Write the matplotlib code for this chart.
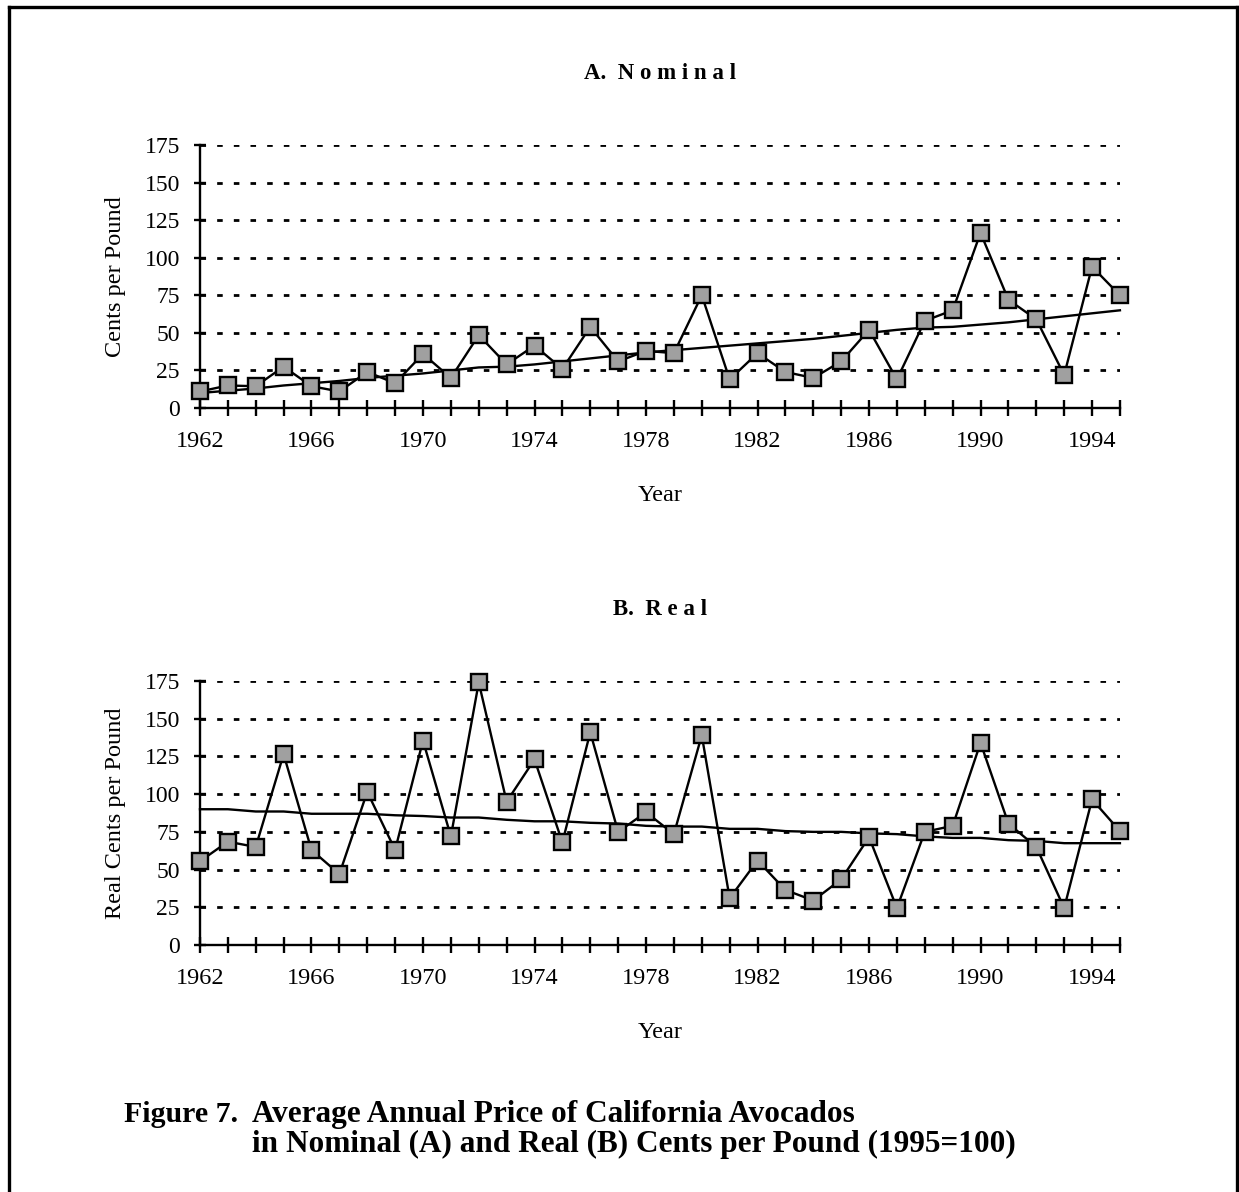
import matplotlib.pyplot as plt
from matplotlib.lines import Line2D

plt.rcParams["font.family"] = ["Liberation Serif", "DejaVu Serif"]

years = list(range(1962, 1996))
year_labels = [1962, 1966, 1970, 1974, 1978, 1982, 1986, 1990, 1994]
y_ticks = [0, 25, 50, 75, 100, 125, 150, 175]

# A. nominal cents per pound
nominal = [11, 15, 14.5, 27.5, 14.5, 11, 24, 16.5, 36, 20,
           48.5, 29, 41.5, 26, 54, 31, 38, 36.5, 75, 19,
           36.5, 24, 20, 31, 52, 19, 58, 65, 116.5, 72,
           59, 22, 94, 75]
nominal_trend = [10, 11.5, 13, 15, 16.5, 18, 20, 21.5, 23, 25,
                 27, 27.5, 29, 31, 33, 35, 37, 38.5, 40, 41.5,
                 43, 44.5, 46, 48, 50, 52, 53.5, 54, 55.5, 57,
                 59, 61, 63, 65]

# B. real cents per pound (1995=100)
real = [55.5, 68.5, 65, 126.5, 63, 47, 101.5, 63, 135.5, 72,
        174, 95, 123, 68, 141, 75, 88, 73.5, 139, 31,
        56, 36.5, 29.5, 43.5, 71.5, 24.5, 75, 79, 134, 80.5,
        65, 24.5, 96.5, 75.5]
real_trend = [90, 90, 88.5, 88.5, 87, 87, 87, 86, 85.5, 84.5,
              84.5, 83, 82, 82, 81, 80.5, 79, 78.5, 78.5, 77,
              77, 75.5, 75, 75, 74, 73.5, 72, 71, 71, 69.5,
              69, 67.5, 67.5, 67.5]


def draw_panel(ax, values, trend, ylabel):
    ax.plot(years, trend, color="black", linewidth=1.7, zorder=2, clip_on=False)
    ax.plot(years, values, color="black", linewidth=1.7, marker="s",
            markersize=11, markerfacecolor="#a0a0a0", markeredgecolor="black",
            markeredgewidth=1.7, zorder=3, clip_on=False)
    ax.set_xlim(1962, 1995)
    ax.set_ylim(0, 175)
    ax.set_xticks(years)
    ax.set_xticklabels([str(y) if y in year_labels else "" for y in years])
    ax.set_yticks(y_ticks)
    ax.yaxis.grid(True, color="black", linestyle=(0, (2.0, 4.0)), linewidth=2.0)
    ax.set_axisbelow(True)
    for side in ["top", "right"]:
        ax.spines[side].set_visible(False)
    for side in ["left", "bottom"]:
        ax.spines[side].set_linewidth(1.7)
    ax.tick_params(axis="x", direction="inout", length=11, width=1.7,
                   labelsize=17.5, pad=11)
    ax.tick_params(axis="y", direction="inout", length=9, width=1.7,
                   labelsize=17, pad=10)
    ax.set_xlabel("Year", fontsize=17.5, labelpad=24)
    ax.set_ylabel(ylabel, fontsize=17.5, labelpad=13)


fig = plt.figure(figsize=(12.39, 11.92), dpi=100)

ax1 = fig.add_axes([0.1614, 0.6577, 0.7425, 0.2207])
draw_panel(ax1, nominal, nominal_trend, "Cents per Pound")
ax2 = fig.add_axes([0.1614, 0.2072, 0.7425, 0.2215])
draw_panel(ax2, real, real_trend, "Real Cents per Pound")

fig.text(0.533, 0.938, "A.  N o m i n a l", ha="center", va="center",
         fontsize=16.5, fontweight="bold")
fig.text(0.533, 0.489, "B.  R e a l", ha="center", va="center",
         fontsize=16.5, fontweight="bold")

# caption
fig.text(0.100, 0.0587, "Figure 7.", ha="left", va="baseline",
         fontsize=21.5, fontweight="bold")
fig.text(0.203, 0.0587, "Average Annual Price of California Avocados",
         ha="left", va="baseline", fontsize=22.5, fontweight="bold")
fig.text(0.203, 0.0336, "in Nominal (A) and Real (B) Cents per Pound (1995=100)",
         ha="left", va="baseline", fontsize=22.5, fontweight="bold")

# page frame (left, top, right)
W, H = 1239, 1192
frame = [((8.5, 8.5), (0, H - 6.5)),
         ((8.5, 1236.5), (H - 6.5, H - 6.5)),
         ((1236.5, 1236.5), (H - 6.5, 0))]
for xs, ys in frame:
    fig.add_artist(Line2D([x / W for x in xs], [y / H for y in ys],
                          color="black", linewidth=2.4))

fig.savefig("out.png", dpi=100)
